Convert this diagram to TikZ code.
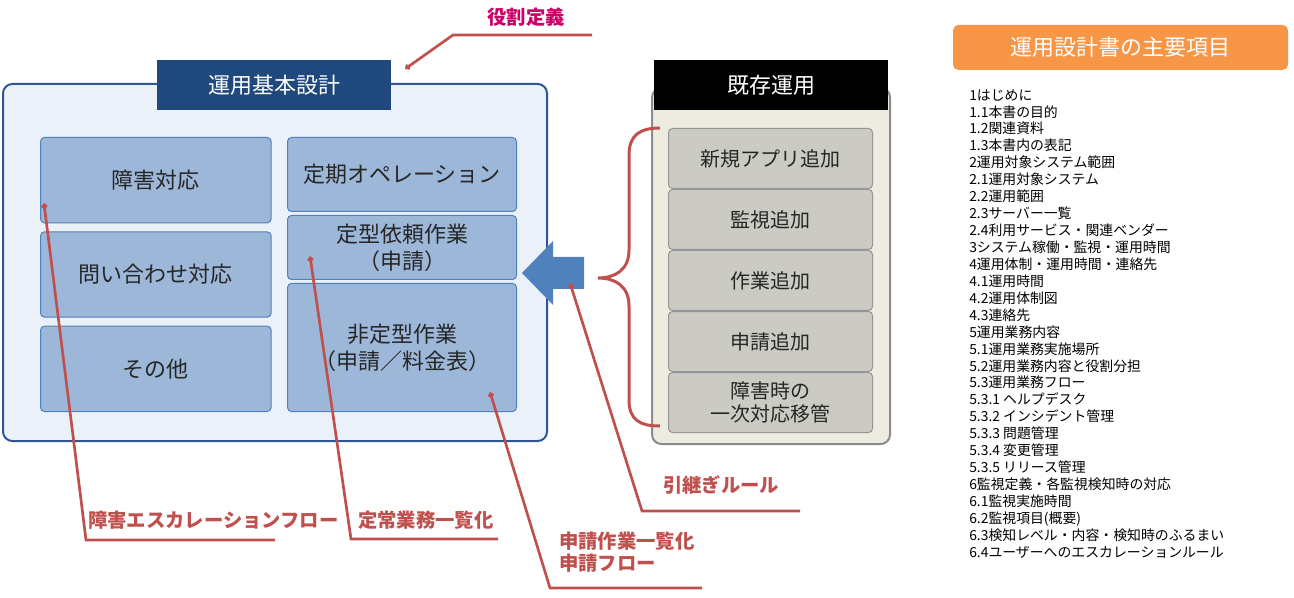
\documentclass[tikz,border=0pt]{standalone}
\usepackage{fontspec}
\setmainfont{Noto Sans CJK JP}
\usetikzlibrary{positioning,arrows.meta}
\definecolor{basefill}{RGB}{235,241,249}
\definecolor{baseline}{RGB}{47,85,151}
\definecolor{headblue}{RGB}{31,73,125}
\definecolor{boxfill}{RGB}{157,183,216}
\definecolor{boxline}{RGB}{79,129,189}
\definecolor{oldfill}{RGB}{238,236,225}
\definecolor{oldline}{RGB}{140,140,140}
\definecolor{itemfill}{RGB}{203,202,195}
\definecolor{itemline}{RGB}{150,150,150}
\definecolor{orangebox}{RGB}{247,150,70}
\definecolor{calloutred}{RGB}{192,80,77}
\definecolor{rolepink}{RGB}{204,0,102}
\definecolor{textdark}{RGB}{38,38,38}

\begin{document}
\begin{tikzpicture}[x=0.75pt,y=-0.75pt,node distance=6pt,
  box/.style={draw=boxline,fill=boxfill,line width=0.75pt,rounded corners=3pt,inner sep=0pt,
    minimum width=173pt,align=center,text=textdark,font=\fontsize{16.5}{20}\selectfont},
  rbox/.style={box,minimum width=171.75pt},
  item/.style={draw=itemline,fill=itemfill,line width=0.75pt,rounded corners=3pt,inner sep=0pt,
    minimum width=153pt,minimum height=45pt,align=center,text=textdark,font=\fontsize{15}{17.25}\selectfont},
  head/.style={inner sep=0pt,minimum width=175.5pt,minimum height=37.5pt,text=white,font=\fontsize{16.5}{20}\selectfont},
  callout/.style={draw=calloutred,line width=2pt,-{Diamond[length=5pt,width=5pt]}},
  note/.style={text=calloutred,inner sep=0pt,align=left,font=\fontsize{14.5}{16.5}\selectfont\bfseries}]
 % \draw[help lines] (0,0) grid[step=50] (1294,598);
  \useasboundingbox (0,0) rectangle (1294,598);
  % left: basic design
  \node[draw=baseline,fill=basefill,line width=1.5pt,rounded corners=7pt,minimum width=408pt,minimum height=267.75pt,anchor=north west] (base) at (2,83) {};
  \node[head,fill=headblue] (basetitle) at (274,85) {運用基本設計};
  \node[box,minimum height=64pt,anchor=north west] (shogai) at (40,137) {障害対応};
  \node[box,minimum height=64pt] (toiawase) [below=of shogai] {問い合わせ対応};
  \node[box,minimum height=64pt] (sonota) [below=of toiawase] {その他};
  \node[rbox,minimum height=55.5pt,anchor=north west] (teiki) at (287,137) {定期オペレーション};
  \node[rbox,minimum height=48pt] (teikei) [below=2.25pt of teiki] {定型依頼作業\\（申請）};
  \node[rbox,minimum height=96pt] (hiteikei) [below=2.25pt of teikei] {非定型作業\\（申請／料金表）};
  % middle: existing operation
  \node[draw=oldline,fill=oldfill,line width=1.5pt,rounded corners=7pt,minimum width=178.5pt,minimum height=267pt,anchor=north west] (old) at (651,87) {};
  \node[head,fill=black] (oldtitle) at (771,85) {既存運用};
  \node[item,anchor=north west] (g1) at (668,128) {新規アプリ追加};
  \node[item] (g2) [below=0pt of g1] {監視追加};
  \node[item] (g3) [below=0pt of g2] {作業追加};
  \node[item] (g4) [below=0pt of g3] {申請追加};
  \node[item] (g5) [below=0pt of g4] {障害時の\\一次対応移管};
  \fill[boxline] (522,273) -- (553,241) -- (553,257) -- (584,257) -- (584,289) -- (553,289) -- (553,305) -- cycle;
  \draw[calloutred,line width=2.25pt] (660,128) .. controls (640,128) and (629,135) .. (629,155) -- (629,250)
    .. controls (629,270) and (615,278) .. (598,278) .. controls (615,278) and (629,286) .. (629,306) -- (629,400)
    .. controls (629,420) and (640,426) .. (660,426);
  % right: contents
  \node[fill=orangebox,rounded corners=4pt,minimum width=251.25pt,minimum height=33.75pt,inner sep=0pt,text=white,font=\fontsize{16.5}{20}\selectfont] (listtitle) at (1120.5,47.5) {運用設計書の主要項目};
  \node[anchor=north west,inner sep=0pt,align=left,font=\fontsize{10.4}{12.7}\selectfont] (list) at (969,89) {1はじめに\\1.1本書の目的\\1.2関連資料\\1.3本書内の表記\\2運用対象システム範囲\\2.1運用対象システム\\2.2運用範囲\\2.3サーバー一覧\\2.4利用サービス・関連ベンダー\\3システム稼働・監視・運用時間\\4運用体制・運用時間・連絡先\\4.1運用時間\\4.2運用体制図\\4.3連絡先\\5運用業務内容\\5.1運用業務実施場所\\5.2運用業務内容と役割分担\\5.3運用業務フロー\\5.3.1 ヘルプデスク\\5.3.2 インシデント管理\\5.3.3 問題管理\\5.3.4 変更管理\\5.3.5 リリース管理\\6監視定義・各監視検知時の対応\\6.1監視実施時間\\6.2監視項目(概要)\\6.3検知レベル・内容・検知時のふるまい\\6.4ユーザーへのエスカレーションルール};
  % callouts
  \node[note,text=rolepink] (role) at (526,17) {役割定義};
  \node[note,anchor=west] (escal) at (88,520) {障害エスカレーションフロー};
  \node[note,anchor=west] (routine) at (358,520) {定常業務一覧化};
  \node[note,anchor=north west] (request) at (559,532) {申請作業一覧化\\申請フロー};
  \node[note,anchor=west] (handover) at (663,485) {引継ぎルール};
  \coordinate (roleEnd) at (592,35);  \coordinate (roleBend) at (453,35);  \coordinate (rolePt) at (405,69);
  \coordinate (escalEnd) at (275,540); \coordinate (escalBend) at (86,540); \coordinate (escalPt) at (44,203);
  \coordinate (routineEnd) at (498,539); \coordinate (routineBend) at (351,539); \coordinate (routinePt) at (310,256);
  \coordinate (requestEnd) at (702,588); \coordinate (requestBend) at (550,588); \coordinate (requestPt) at (490,392);
  \coordinate (handoverEnd) at (800,511); \coordinate (handoverBend) at (642,511); \coordinate (handoverPt) at (570,283);
  \draw[callout] (roleEnd) -- (roleBend) -- (rolePt);
  \draw[callout] (escalEnd) -- (escalBend) -- (escalPt);
  \draw[callout] (routineEnd) -- (routineBend) -- (routinePt);
  \draw[callout] (requestEnd) -- (requestBend) -- (requestPt);
  \draw[callout] (handoverEnd) -- (handoverBend) -- (handoverPt);
\end{tikzpicture}
\end{document}
